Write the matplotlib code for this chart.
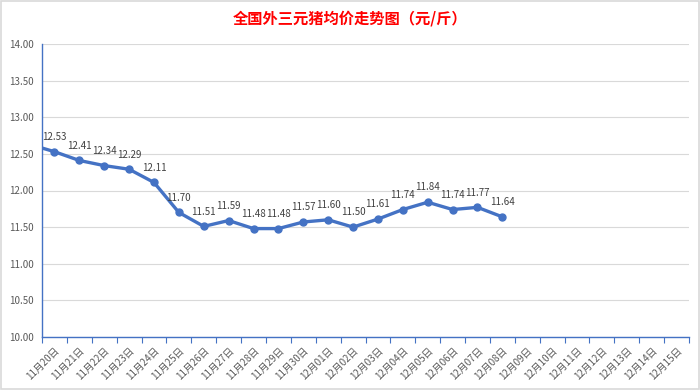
import matplotlib
matplotlib.use("Agg")
import matplotlib.pyplot as plt
from matplotlib.patches import Rectangle
import numpy as np

plt.rcParams['font.family'] = ['Noto Sans CJK SC', 'DejaVu Sans']

categories = ["11月20日", "11月21日", "11月22日", "11月23日", "11月24日", "11月25日",
              "11月26日", "11月27日", "11月28日", "11月29日", "11月30日", "12月01日",
              "12月02日", "12月03日", "12月04日", "12月05日", "12月06日", "12月07日",
              "12月08日", "12月09日", "12月10日", "12月11日", "12月12日", "12月13日",
              "12月14日", "12月15日"]
prices = [12.53, 12.41, 12.34, 12.29, 12.11, 11.70, 11.51, 11.59, 11.48, 11.48,
          11.57, 11.60, 11.50, 11.61, 11.74, 11.84, 11.74, 11.77, 11.64]
prev_price = 12.63  # value before first category (line enters from left edge)
yticks = [10.0, 10.5, 11.0, 11.5, 12.0, 12.5, 13.0, 13.5, 14.0]

blue = "#4472C4"
fig = plt.figure(figsize=(7, 3.9), dpi=100)
ax = fig.add_axes([42/700, 1-337/390, (689-42)/700, (337-44)/390])

x = np.arange(len(prices))
ax.plot(np.concatenate([[-1], x]), [prev_price] + prices, color=blue, lw=2.4,
        solid_joinstyle='round', zorder=3)
ax.plot(x, prices, 'o', color=blue, ms=5, zorder=4)
for xi, v in zip(x, prices):
    ax.annotate(f"{v:.2f}", (xi, v), xytext=(0, 7), textcoords='offset points',
                ha='center', va='bottom', fontsize=7, color='#404040')

ax.set_xlim(-0.5, len(categories) - 0.5)
ax.set_ylim(10, 14)
ax.set_yticks(yticks)
ax.set_yticklabels([f"{v:.2f}" for v in yticks], fontsize=7, color='#595959')
ax.tick_params(axis='y', length=0, pad=6)
ax.grid(axis='y', color='#D9D9D9', lw=0.8)
ax.set_axisbelow(True)

ax.set_xticks(np.arange(len(categories)))
ax.set_xticklabels(categories, rotation=45, ha='right', va='top', fontsize=7,
                   color='#595959', rotation_mode='anchor')
ax.tick_params(axis='x', which='major', length=0, pad=6)
ax.set_xticks(np.arange(-0.5, len(categories)), minor=True)
ax.tick_params(axis='x', which='minor', length=4, color=blue, width=0.8)

for s in ['top', 'right']:
    ax.spines[s].set_visible(False)
ax.spines['left'].set_color(blue)
ax.spines['bottom'].set_color(blue)
ax.spines['left'].set_linewidth(1)
ax.spines['bottom'].set_linewidth(1)

fig.text(0.5, 1-18/390, "全国外三元猪均价走势图（元/斤）", ha='center', va='center',
         fontsize=11, fontweight='bold', color='#FF0000')
fig.patches.append(Rectangle((0.001, 0.002), 0.997, 0.995, transform=fig.transFigure,
                             fill=False, edgecolor='#D9D9D9', lw=1.2))

fig.savefig("out.png", dpi=100)
